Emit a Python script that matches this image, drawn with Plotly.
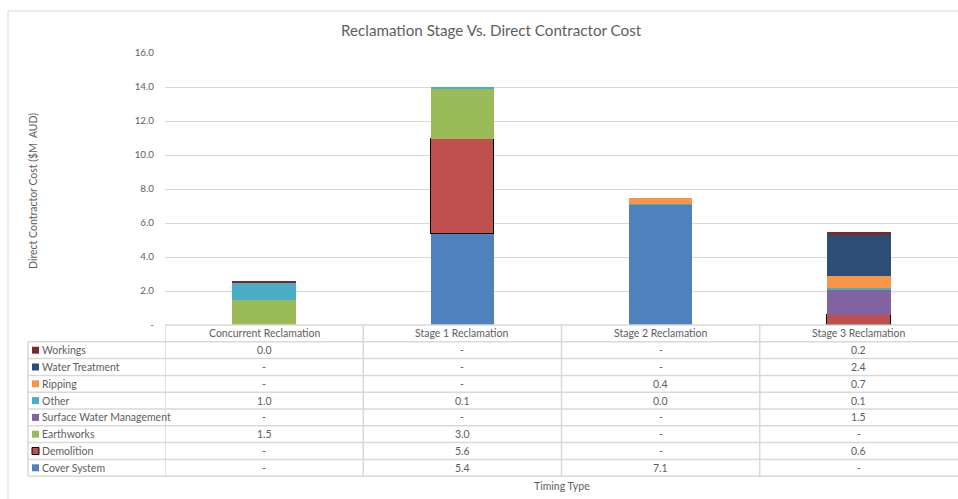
import plotly.graph_objects as go

W, H = 958, 499

# ---- data -------------------------------------------------------------
stages = ["Concurrent Reclamation", "Stage 1 Reclamation",
          "Stage 2 Reclamation", "Stage 3 Reclamation"]

# cost components, stacked bottom -> top ($M AUD); None = no cost
cover_system = [None, 5.36, 7.08, None]
demolition = [None, 5.56, None, 0.56]
earthworks = [1.46, 2.98, None, None]
surface_water_mgmt = [None, None, None, 1.54]
other = [1.04, 0.08, 0.04, 0.08]
ripping = [None, None, 0.36, 0.7]
water_treatment = [None, None, None, 2.41]
workings = [0.04, None, None, 0.2]

y_ticks = [0, 2, 4, 6, 8, 10, 12, 14, 16]
y_tick_text = ["-" if t == 0 else f"{t:.1f}" for t in y_ticks]

series = [
    ("Cover System", cover_system, "#4F81BD", False),
    ("Demolition", demolition, "#C0504D", True),
    ("Earthworks", earthworks, "#9BBB59", False),
    ("Surface Water Management", surface_water_mgmt, "#8064A2", False),
    ("Other", other, "#4BACC6", False),
    ("Ripping", ripping, "#F79646", False),
    ("Water Treatment", water_treatment, "#2C4D75", False),
    ("Workings", workings, "#772C2A", False),
]

# ---- layout helpers (pixel -> paper) ----------------------------------
def px(x):
    return x / W

def py(y):
    return 1 - y / H

FONT = "Lato"
GREY = "#5E5E5E"
LINE = "#D9D9D9"
TXT = 10.5

plot_left, plot_top, plot_bottom = 165, 53, 325
row_h = 16.8
table_left = 28

fig = go.Figure()
for name, vals, color, outlined in series:
    fig.add_trace(go.Bar(
        x=stages, y=vals, name=name, width=0.32,
        marker=dict(color=color,
                    line=dict(color="#000000" if outlined else color,
                              width=1.2 if outlined else 0)),
        showlegend=False,
    ))

shapes = []
annotations = []


def label(x, y, text, xref="paper", size=TXT, xanchor="center", **kw):
    annotations.append(dict(x=x, y=y, xref=xref, yref="paper", text=text,
                            showarrow=False, xanchor=xanchor, yanchor="middle",
                            font=dict(family=FONT, size=size, color=GREY), **kw))


# outer chart frame
shapes.append(dict(type="rect", xref="paper", yref="paper",
                   x0=px(8), x1=px(W + 5), y0=py(H + 5), y1=py(11),
                   line=dict(color=LINE, width=1), layer="below"))

# data table grid
n_rows = len(series)
table_top = plot_bottom + row_h
table_bottom = table_top + n_rows * row_h
shapes.append(dict(type="line", xref="paper", yref="paper",
                   x0=px(plot_left), x1=1, y0=py(plot_bottom), y1=py(plot_bottom),
                   line=dict(color=LINE, width=1.5)))
for i in range(n_rows + 1):
    yy = table_top + i * row_h
    shapes.append(dict(type="line", xref="paper", yref="paper",
                       x0=px(table_left), x1=1, y0=py(yy), y1=py(yy),
                       line=dict(color=LINE, width=1.5)))
shapes.append(dict(type="line", xref="paper", yref="paper",
                   x0=px(table_left), x1=px(table_left),
                   y0=py(table_top), y1=py(table_bottom),
                   line=dict(color=LINE, width=1.5)))
for k in range(len(stages)):
    shapes.append(dict(type="line", xref="x", yref="paper",
                       x0=k - 0.5, x1=k - 0.5,
                       y0=py(plot_bottom), y1=py(table_bottom),
                       line=dict(color=LINE, width=1.5)))

# column headers
for k, s in enumerate(stages):
    label(k, py(plot_bottom + row_h / 2), s, xref="x")

# table rows: top row is the top of the stack
for r, (name, vals, color, outlined) in enumerate(reversed(series)):
    yc = table_top + r * row_h + row_h / 2
    shapes.append(dict(type="rect", xref="paper", yref="paper",
                       x0=px(32), x1=px(39), y0=py(yc + 3.5), y1=py(yc - 3.5),
                       fillcolor=color,
                       line=dict(color="#000000" if outlined else color,
                                 width=1 if outlined else 0)))
    label(px(40), py(yc), name, xanchor="left")
    for k, v in enumerate(vals):
        label(k, py(yc), "-" if v is None else f"{v:.1f}", xref="x")

# titles
label(px(491), py(30), "Reclamation Stage Vs. Direct Contractor Cost", size=15.2)
label(px(33), py(191), "Direct Contractor Cost ($M  AUD)", textangle=-90)
label(px(562), py(486), "Timing Type")

fig.update_layout(
    width=W, height=H, autosize=False,
    margin=dict(l=0, r=0, t=0, b=0, pad=0, autoexpand=False),
    paper_bgcolor="white", plot_bgcolor="white",
    barmode="stack", bargap=0,
    shapes=shapes, annotations=annotations,
    xaxis=dict(domain=[px(plot_left), 1], range=[-0.5, 3.5],
               showticklabels=False, showgrid=False, zeroline=False,
               showline=False, ticks="", automargin=False),
    yaxis=dict(domain=[py(plot_bottom), py(plot_top)], range=[0, 16],
               tickvals=y_ticks, ticktext=y_tick_text,
               tickfont=dict(family=FONT, size=9.8, color=GREY),
               ticklabelstandoff=10, automargin=False,
               showgrid=True, gridcolor=LINE, gridwidth=1.2,
               zeroline=False, showline=False, ticks=""),
)

fig.write_html("out.html")
